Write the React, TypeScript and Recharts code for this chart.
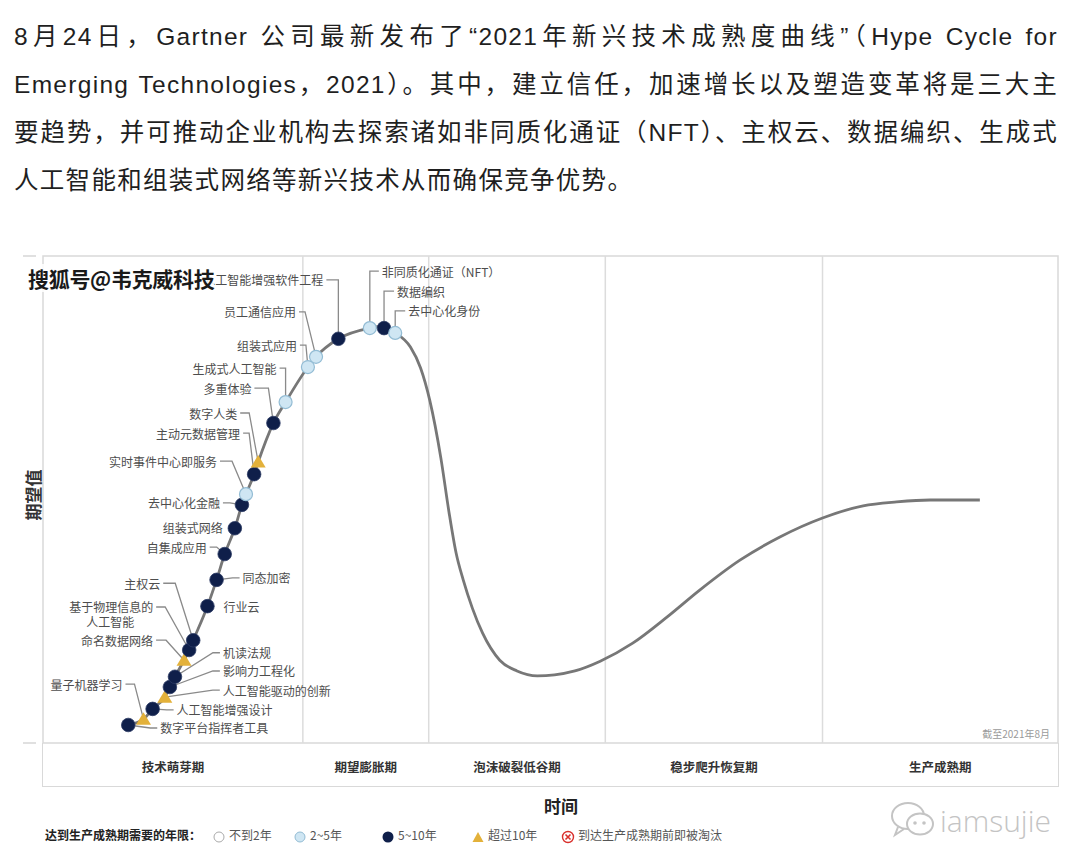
import React from 'react';
import {
  ComposedChart,
  Line,
  Scatter,
  XAxis,
  YAxis,
  ReferenceLine,
  ReferenceArea,
} from 'recharts';

// hype curve, x = time (0-100), y = expectations (0-100)
const curveX = [8.4, 9.9, 10.8, 12.0, 12.5, 13.0, 13.9, 14.4, 14.8, 16.2, 17.1, 17.9, 18.9, 19.6, 20.0, 20.8, 21.2, 22.7, 23.9, 26.1, 26.9, 29.1, 32.2, 33.0, 33.6, 34.7, 36.2, 37.2, 38.1, 39.2, 40.0, 40.7, 41.4, 42.3, 43.3, 45.0, 46.7, 48.7, 50.4, 52.4, 54.9, 58.1, 61.5, 64.7, 68.7, 72.6, 76.8, 80.8, 84.1, 87.4, 92.3];
const curveY = [3.7, 4.9, 7.0, 9.4, 11.5, 13.6, 17.0, 19.1, 21.1, 28.1, 33.5, 38.8, 44.1, 48.9, 51.1, 55.2, 57.7, 65.7, 70.0, 77.2, 79.3, 83.0, 85.2, 85.5, 85.2, 84.2, 81.3, 77.0, 70.4, 58.5, 47.4, 39.0, 33.5, 27.7, 22.6, 17.0, 14.8, 13.8, 14.0, 14.8, 16.8, 20.5, 25.9, 31.4, 37.6, 42.3, 46.2, 48.7, 49.5, 49.9, 49.9];

// technologies on the curve
const techNames = [
  '数字平台指挥者工具', '量子机器学习', '人工智能增强设计', '人工智能驱动的创新', '影响力工程化',
  '机读法规', '命名数据网络', '基于物理信息的\n人工智能', '主权云', '行业云',
  '同态加密', '自集成应用', '组装式网络', '去中心化金融', '实时事件中心即服务',
  '主动元数据管理', '数字人类', '多重体验', '生成式人工智能', '组装式应用',
  '员工通信应用', '人工智能增强软件工程', '非同质化通证（NFT）', '数据编织', '去中心化身份',
];
const techX = [8.4, 9.9, 10.8, 12.0, 12.5, 13.0, 13.9, 14.4, 14.8, 16.2, 17.1, 17.9, 18.9, 19.6, 20.0, 20.8, 21.2, 22.7, 23.9, 26.1, 26.9, 29.1, 32.2, 33.6, 34.7];
const techY = [3.7, 4.9, 7.0, 9.4, 11.5, 13.6, 17.0, 19.1, 21.1, 28.1, 33.5, 38.8, 44.1, 48.9, 51.1, 55.2, 57.7, 65.7, 70.0, 77.2, 79.3, 83.0, 85.2, 85.2, 84.2];
// years to plateau: 2-5 / 5-10 / 10+
const techYears = [
  '5-10', '10+', '5-10', '10+', '5-10',
  '5-10', '10+', '5-10', '5-10', '5-10',
  '5-10', '5-10', '5-10', '5-10', '2-5',
  '5-10', '10+', '5-10', '2-5', '2-5',
  '2-5', '5-10', '2-5', '5-10', '2-5',
];

const phaseNames = ['技术萌芽期', '期望膨胀期', '泡沫破裂低谷期', '稳步爬升恢复期', '生产成熟期'];
const phaseBounds = [0, 25.6, 38.0, 55.4, 76.8, 100];

const legendItems = ['不到2年', '2~5年', '5~10年', '超过10年', '到达生产成熟期前即被淘汰'];

// label placement relative to the marker (px)
const labelLayout: Record<string, any> = {
  '数字平台指挥者工具': { dx: 32, dy: 3, anchor: 'start' },
  '量子机器学习': { dx: -21, dy: -35, anchor: 'end', bend: 9 },
  '人工智能增强设计': { dx: 24, dy: 1, anchor: 'start' },
  '人工智能驱动的创新': { dx: 58, dy: -7, anchor: 'start' },
  '影响力工程化': { dx: 53, dy: -16, anchor: 'start' },
  '机读法规': { dx: 48, dy: -24, anchor: 'start' },
  '命名数据网络': { dx: -31, dy: -20, anchor: 'end', bend: 10 },
  '基于物理信息的\n人工智能': { dx: -36, dy: -43, anchor: 'end', bend: 9, sub: -43 },
  '主权云': { dx: -33, dy: -57, anchor: 'end', bend: 12 },
  '行业云': { dx: 16, dy: 0, anchor: 'start', noLeader: true },
  '同态加密': { dx: 26, dy: -2, anchor: 'start' },
  '自集成应用': { dx: -18, dy: -7, anchor: 'end' },
  '组装式网络': { dx: -12, dy: -1, anchor: 'end', noLeader: true },
  '去中心化金融': { dx: -22, dy: -2, anchor: 'end' },
  '实时事件中心即服务': { dx: -29, dy: -33, anchor: 'end', bend: 12 },
  '主动元数据管理': { dx: -14, dy: -41, anchor: 'end', bend: 6 },
  '数字人类': { dx: -21, dy: -49, anchor: 'end', bend: 9 },
  '多重体验': { dx: -22, dy: -35, anchor: 'end', bend: 14 },
  '生成式人工智能': { dx: -9, dy: -34, anchor: 'end', bend: 6 },
  '组装式应用': { dx: -11, dy: -22, anchor: 'end', bend: 6 },
  '员工通信应用': { dx: -20, dy: -45, anchor: 'end', bend: 6 },
  '人工智能增强软件工程': { dx: -15, dy: -59, anchor: 'end', bend: 12 },
  '非同质化通证（NFT）': { dx: 12, dy: -57, anchor: 'start', bend: 9 },
  '数据编织': { dx: 13, dy: -37, anchor: 'start', bend: 10 },
  '去中心化身份': { dx: 13, dy: -22, anchor: 'start', bend: 10 },
};

const curveData = curveX.map((x, i) => ({ x, y: curveY[i] }));
const techData = techNames.map((name, i) => ({ x: techX[i], y: techY[i], name, years: techYears[i] }));
const phaseTicks = phaseNames.map((_, i) => (phaseBounds[i] + phaseBounds[i + 1]) / 2);

const CJK = '"Noto Sans CJK SC", "Noto Sans", sans-serif';
const NAVY = '#0f1f4a';
const LIGHT = '#cfe6f3';
const GOLD = '#e3b13a';

const TechLabel = (props: any) => {
  const { cx, cy, payload } = props;
  const l = labelLayout[payload.name];
  if (!l || cx == null) return <g />;
  const tx = cx + l.dx;
  const ty = cy + l.dy;
  const dir = l.anchor === 'end' ? 1 : -1;
  const sx = tx + dir * 3;
  const bx = sx + dir * (l.bend ?? 7);
  const lines = payload.name.split('\n');
  return (
    <g>
      {!l.noLeader && (
        <polyline
          points={`${sx},${ty} ${bx},${ty} ${cx},${cy}`}
          fill="none"
          stroke="#8a8a8a"
          strokeWidth={1.3}
        />
      )}
      <text x={tx} y={ty} textAnchor={l.anchor} dominantBaseline="central" fontSize={12} fill="#4d4d4d" fontFamily={CJK}>
        {lines[0]}
      </text>
      {lines[1] && (
        <text x={tx + l.sub} y={ty + 15} textAnchor="middle" dominantBaseline="central" fontSize={12} fill="#4d4d4d" fontFamily={CJK}>
          {lines[1]}
        </text>
      )}
    </g>
  );
};

const TechMarker = (props: any) => {
  const { cx, cy, payload } = props;
  if (cx == null) return <g />;
  if (payload.years === '10+') {
    return <polygon points={`${cx},${cy - 7} ${cx - 7.5},${cy + 5.5} ${cx + 7.5},${cy + 5.5}`} fill={GOLD} />;
  }
  if (payload.years === '2-5') {
    return <circle cx={cx} cy={cy} r={6.5} fill={LIGHT} stroke="#93bcd4" strokeWidth={1.2} />;
  }
  return <circle cx={cx} cy={cy} r={6.8} fill={NAVY} stroke="#2b3a63" strokeWidth={0.8} />;
};

const PhaseTick = ({ x, y, index }: any) => (
  <text x={x} y={y + 23} textAnchor="middle" dominantBaseline="central" fontSize={12.5} fontWeight={700} fill="#333" fontFamily={CJK}>
    {phaseNames[index]}
  </text>
);

const DashTick = ({ x, y }: any) => (
  <line x1={x - 20} x2={x - 7} y1={y} y2={y} stroke="#d6d6d6" strokeWidth={1.5} />
);

const LegendIcon = ({ kind }: { kind: number }) => (
  <svg width={14} height={14} style={{ verticalAlign: 'middle', marginRight: 3 }}>
    {kind === 0 && <circle cx={7} cy={7} r={5} fill="#fff" stroke="#aaa" />}
    {kind === 1 && <circle cx={7} cy={7} r={5} fill={LIGHT} stroke="#93bcd4" />}
    {kind === 2 && <circle cx={7} cy={7} r={5.5} fill={NAVY} />}
    {kind === 3 && <polygon points="7,2 1.5,12 12.5,12" fill={GOLD} />}
    {kind === 4 && (
      <g>
        <circle cx={7} cy={7} r={5.5} fill="#fff" stroke="#d9302c" strokeWidth={1.4} />
        <path d="M4.5 4.5 L9.5 9.5 M9.5 4.5 L4.5 9.5" stroke="#d9302c" strokeWidth={1.6} />
      </g>
    )}
  </svg>
);

const introLines = [
  '8月24日，Gartner 公司最新发布了“2021年新兴技术成熟度曲线”（Hype Cycle for',
  'Emerging Technologies，2021）。其中，建立信任，加速增长以及塑造变革将是三大主',
  '要趋势，并可推动企业机构去探索诸如非同质化通证（NFT）、主权云、数据编织、生成式',
  '人工智能和组装式网络等新兴技术从而确保竞争优势。',
];

const legendLeft = [212, 293, 381, 471, 561];

export default function App() {
  return (
    <div style={{ position: 'absolute', left: 0, top: 0, width: 1080, height: 868, background: '#fff', overflow: 'hidden' }}>
      {introLines.map((t, i) => (
        <div
          key={i}
          style={{
            position: 'absolute',
            left: 14,
            top: 13 + i * 48,
            width: 1044,
            height: 48,
            lineHeight: '48px',
            fontSize: 24.5,
            letterSpacing: 1.3,
            color: '#1f1f1f',
            fontFamily: '"Liberation Sans", "Noto Sans CJK SC", sans-serif',
            textAlign: i < 3 ? 'justify' : 'left',
            textAlignLast: i < 3 ? 'justify' : 'left',
          }}
        >
          {t}
        </div>
      ))}

      {/* phase row box */}
      <div
        style={{
          position: 'absolute',
          left: 42,
          top: 743,
          width: 1015,
          height: 43,
          borderLeft: '1.5px solid #d9d9d9',
          borderRight: '1.5px solid #d9d9d9',
          borderBottom: '1.5px solid #d9d9d9',
        }}
      />

      <div style={{ position: 'absolute', left: 0, top: 0 }}>
        <ComposedChart width={1080} height={868} margin={{ top: 256, right: 22, bottom: 81, left: 27 }}>
          <XAxis
            dataKey="x"
            type="number"
            domain={[0, 100]}
            ticks={phaseTicks}
            tick={<PhaseTick />}
            tickLine={false}
            axisLine={false}
            tickSize={0}
            tickMargin={0}
            height={44}
            interval={0}
          />
          <YAxis
            type="number"
            domain={[0, 100]}
            ticks={[0, 100]}
            tick={<DashTick />}
            tickLine={false}
            axisLine={false}
            tickSize={0}
            tickMargin={0}
            width={16}
          />
          <ReferenceArea x1={0} x2={100} y1={0} y2={100} fill="none" stroke="#d9d9d9" strokeWidth={1.5} />
          {phaseBounds.slice(1, -1).map((b) => (
            <ReferenceLine key={b} x={b} stroke="#dcdcdc" strokeWidth={1.5} />
          ))}
          <Line
            data={curveData}
            dataKey="y"
            type="monotone"
            stroke="#777"
            strokeWidth={2.8}
            dot={false}
            isAnimationActive={false}
          />
          <Scatter data={techData} dataKey="y" shape={<TechLabel />} isAnimationActive={false} />
          <Scatter data={techData} dataKey="y" shape={<TechMarker />} isAnimationActive={false} />
        </ComposedChart>
      </div>

      {/* axis titles */}
      <div
        style={{
          position: 'absolute',
          left: 32,
          top: 495,
          transform: 'translate(-50%, -50%) rotate(-90deg)',
          fontSize: 17,
          fontWeight: 700,
          color: '#333',
          fontFamily: CJK,
          whiteSpace: 'nowrap',
        }}
      >
        期望值
      </div>
      <div
        style={{
          position: 'absolute',
          left: 561,
          top: 805,
          transform: 'translate(-50%, -50%)',
          fontSize: 17,
          fontWeight: 700,
          color: '#222',
          fontFamily: CJK,
        }}
      >
        时间
      </div>

      <div style={{ position: 'absolute', right: 30, top: 726, fontSize: 10, color: '#9a9a9a', fontFamily: CJK }}>
        截至2021年8月
      </div>

      {/* legend */}
      <div
        style={{
          position: 'absolute',
          left: 45,
          top: 826,
          fontSize: 12,
          fontWeight: 700,
          color: '#222',
          fontFamily: CJK,
          lineHeight: '18px',
        }}
      >
        达到生产成熟期需要的年限：
      </div>
      {legendItems.map((t, i) => (
        <div
          key={t}
          style={{
            position: 'absolute',
            left: legendLeft[i],
            top: 826,
            fontSize: 12,
            color: '#555',
            fontFamily: CJK,
            lineHeight: '18px',
            whiteSpace: 'nowrap',
          }}
        >
          <LegendIcon kind={i} />
          {t}
        </div>
      ))}

      {/* watermarks */}
      <div
        style={{
          position: 'absolute',
          left: 28,
          top: 264,
          fontSize: 21,
          fontWeight: 700,
          color: '#1a1a1a',
          fontFamily: CJK,
          lineHeight: '28px',
          background: 'rgba(255,255,255,0.85)',
          letterSpacing: -0.3,
        }}
      >
        搜狐号@韦克威科技
      </div>
      <div style={{ position: 'absolute', left: 888, top: 798, display: 'flex', alignItems: 'center' }}>
        <svg width={50} height={44}>
          <ellipse cx={20} cy={18} rx={16} ry={13} fill="none" stroke="#c4c4c4" strokeWidth={2} />
          <path d="M10 29 L7 37 L16 31" fill="none" stroke="#c4c4c4" strokeWidth={2} />
          <ellipse cx={32} cy={26} rx={13} ry={10.5} fill="#fff" stroke="#c4c4c4" strokeWidth={2} />
          <circle cx={27} cy={25} r={1.8} fill="#c4c4c4" />
          <circle cx={36} cy={25} r={1.8} fill="#c4c4c4" />
        </svg>
        <span style={{ fontSize: 30, color: '#c4c4c4', fontFamily: '"Open Sans", sans-serif', fontWeight: 300, marginLeft: 2 }}>
          iamsujie
        </span>
      </div>
    </div>
  );
}
